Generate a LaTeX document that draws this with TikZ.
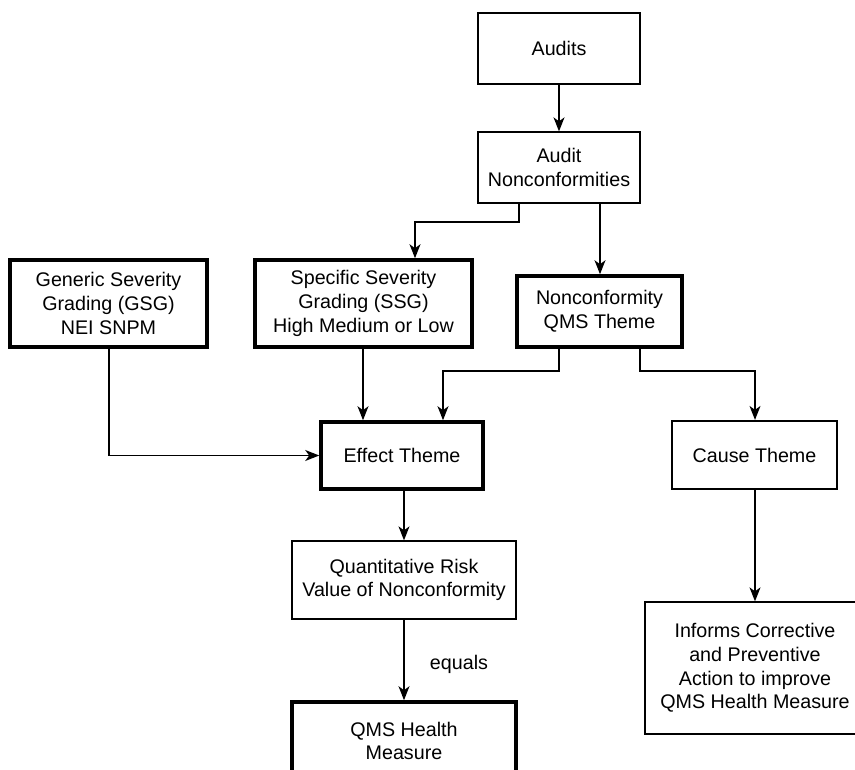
\documentclass[tikz,border=0pt]{standalone}
\usepackage{fontspec}
\setmainfont{Liberation Sans}
\usetikzlibrary{arrows.meta,calc}
\begin{document}
\begin{tikzpicture}[x=1pt,y=-1pt,
  box/.style={draw=black,line width=1.3pt,inner sep=0pt,align=center,
    font=\fontsize{19.7}{23.6}\selectfont},
  thinbox/.style={box},
  midbox/.style={box,line width=2.2pt},
  thickbox/.style={box,line width=3.6pt},
  conn/.style={draw=black,line width=1.3pt,
    -{Stealth[length=14pt,width=11pt,inset=4pt]}},
  lbl/.style={font=\fontsize{19.7}{23.6}\selectfont}]
\clip (0,0) rectangle (855,770);
\fill[white] (0,0) rectangle (855,770);

% boxes
\node[thinbox,minimum width=162pt,minimum height=71pt] (audits) at (559,48.5) {Audits};
\node[thinbox,minimum width=162pt,minimum height=71pt] (anc) at (559,167.5) {Audit\\Nonconformities};
\node[thickbox,minimum width=197pt,minimum height=87pt] (gsg) at (108.5,303.5) {Generic Severity\\Grading (GSG)\\NEI SNPM};
\node[thickbox,minimum width=217pt,minimum height=87pt] (ssg) at (363.5,303.5) {Specific Severity\\Grading (SSG)\\High Medium or Low};
\node[thickbox,minimum width=165pt,minimum height=71pt] (ncq) at (599.5,311.5) {Nonconformity\\QMS Theme};
\node[thickbox,minimum width=162pt,minimum height=67pt] (effect) at (402,455.5) {Effect Theme};
\node[midbox,minimum width=165pt,minimum height=68pt] (cause) at (754.5,455) {Cause Theme};
\node[thinbox,minimum width=224pt,minimum height=78pt] (quant) at (404,580) {Quantitative Risk\\Value of Nonconformity};
\node[thickbox,minimum width=224pt,minimum height=78pt] (health) at (404,741) {QMS Health\\Measure};
\node[thinbox,minimum width=220pt,minimum height=132pt] (informs) at (755,668) {Informs Corrective\\and Preventive\\Action to improve\\QMS Health Measure};

% connector branch points
\coordinate (ancL) at (519,0);
\coordinate (ancR) at (600,0);
\coordinate (ssgIn) at (415,0);
\coordinate (ncqL) at (559,0);
\coordinate (ncqR) at (640,0);
\coordinate (effIn) at (443,0);
\coordinate (ssgOut) at (363,0);
\coordinate (gsgOut) at (109,0);
\coordinate (causeX) at (755,0);
\coordinate (split1) at (0,222);
\coordinate (split2) at (0,371);

% connectors
\draw[conn] (audits) -- (anc);
\draw[conn] (ancL |- anc.south) -- (ancL |- split1) -- (ssgIn |- split1) -- (ssgIn |- ssg.north);
\draw[conn] (ancR |- anc.south) -- (ancR |- ncq.north);
\draw[conn] (ssgOut |- ssg.south) -- (ssgOut |- effect.north);
\draw[conn] (ncqL |- ncq.south) -- (ncqL |- split2) -- (effIn |- split2) -- (effIn |- effect.north);
\draw[conn] (ncqR |- ncq.south) -- (ncqR |- split2) -- (causeX |- split2) -- (causeX |- cause.north);
\draw[conn] (gsgOut |- gsg.south) -- (gsgOut |- effect.west) -- (effect.west);
\draw[conn] (404,0 |- effect.south) -- (404,0 |- quant.north);
\draw[conn] (quant) -- (health) node[lbl,pos=0.55,right=22pt] (eq) {equals};
\draw[conn] (causeX |- cause.south) -- (causeX |- informs.north);
\end{tikzpicture}
\end{document}
